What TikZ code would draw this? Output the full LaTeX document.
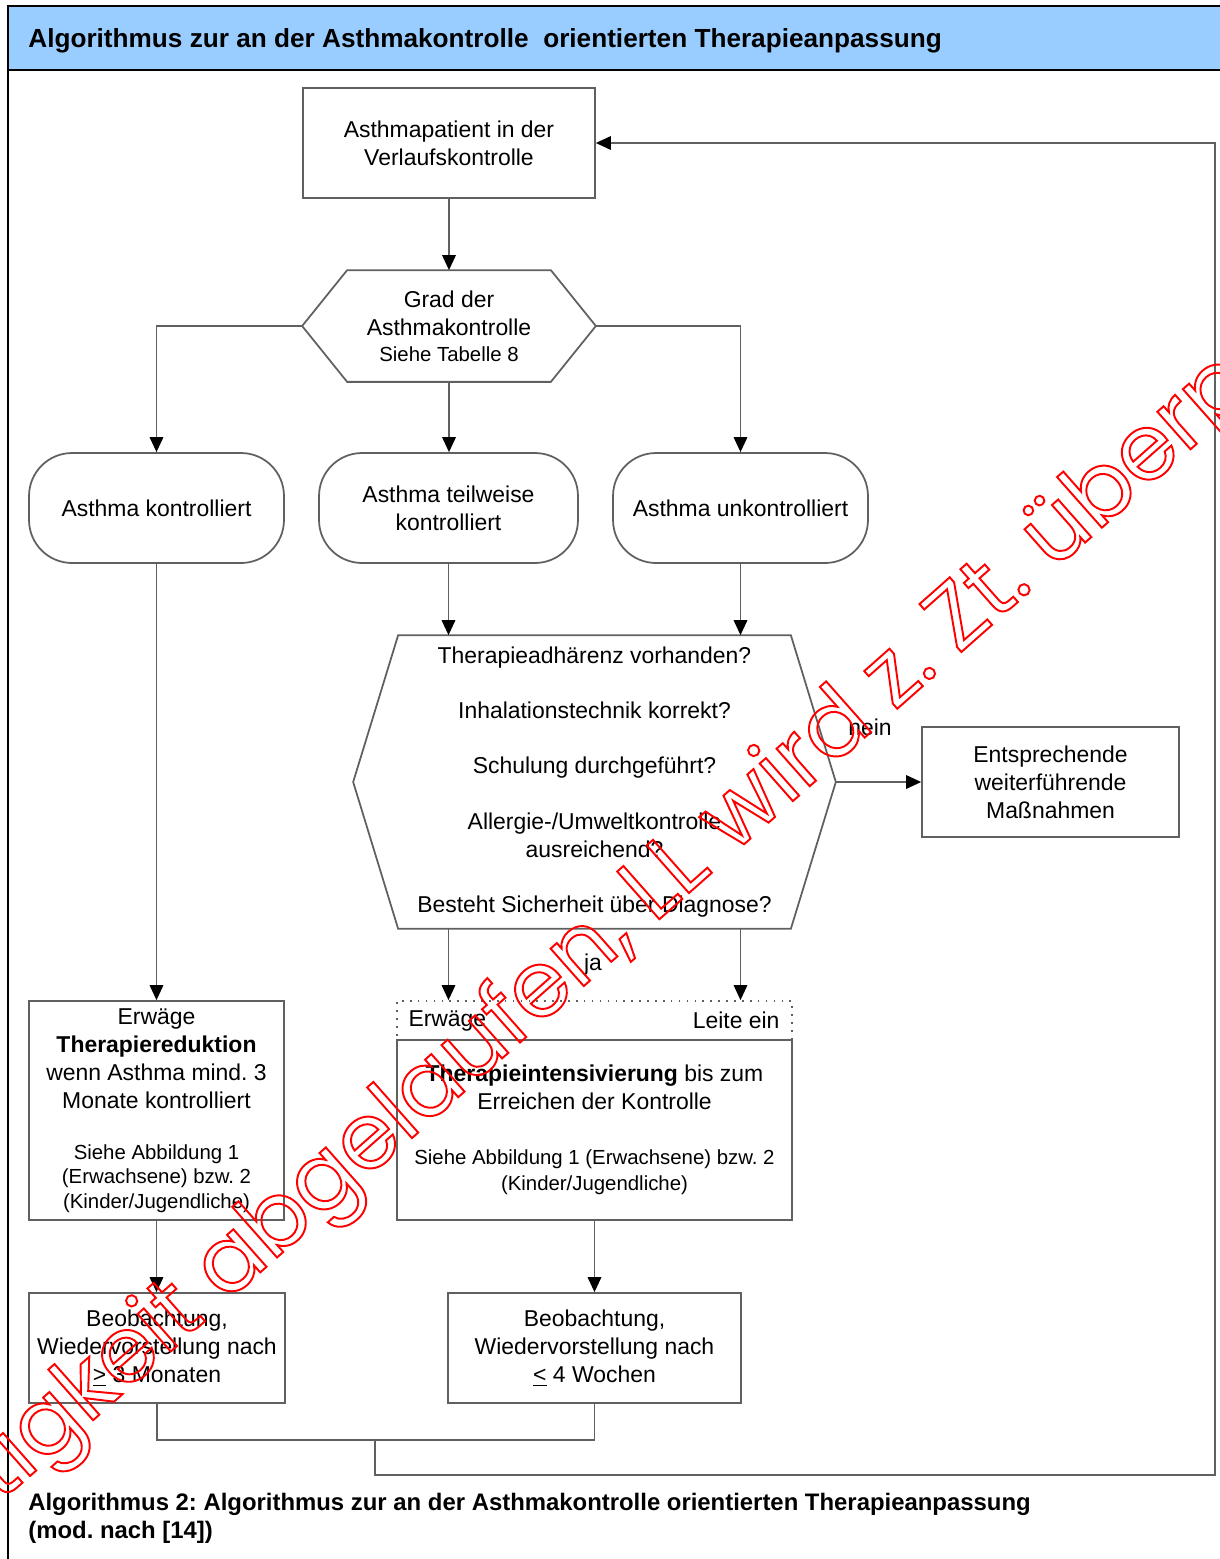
\documentclass[tikz,border=0pt]{standalone}
\usepackage{fontspec}
\setmainfont{Liberation Sans}
\newfontfamily\wzfont{Poppins}
\frenchspacing
\usetikzlibrary{calc}
\usetikzlibrary{arrows.meta}
\definecolor{headblue}{RGB}{153,204,255}
\definecolor{linegrey}{RGB}{96,96,96}
\newcommand{\kl}[1]{{\fontsize{11.6}{14.5}\selectfont #1}}
\newcommand{\umriss}[1]{\special{pdf:literal direct 1 Tr 1.1 w}#1\special{pdf:literal direct 0 Tr}}
\tikzset{box/.style={draw=linegrey, line width=1pt, align=center, inner sep=0pt, minimum height=2.2cm, font=\fontsize{13.05}{15.9}\selectfont}}
\tikzset{roundbox/.style={box, rounded corners=0.86cm}}
\tikzset{hexbox/.style={box, draw=none}}
\tikzset{label/.style={inner sep=0pt, font=\fontsize{13.05}{15.9}\selectfont}}
\tikzset{linie/.style={draw=linegrey, line width=1pt}}
\tikzset{pfeil/.style={linie, -{Triangle[length=0.3cm, width=0.27cm, color=black]}}}
\tikzset{rahmen/.style={draw=black, line width=1.6pt}}

\begin{document}
\begin{tikzpicture}[x=0.02cm,y=-0.02cm]
  \useasboundingbox (0,0) rectangle (1220,1559);
  % header band
  \fill[headblue] (8,6) rectangle (1220,70);
  \draw[rahmen] (1220,6) -- (8,6) -- (8,1559);
  \draw[rahmen] (8,70) -- (1220,70);
  \node[label, anchor=west, font=\fontsize{14.9}{18}\selectfont\bfseries] (titel) at (28,41)
    {Algorithmus zur an der Asthmakontrolle~ orientierten Therapieanpassung};

  % boxes
  \node[box, minimum width=5.84cm] (patient) at (449,143) {Asthmapatient in der\\ Verlaufskontrolle};
  \node[hexbox, minimum width=5.84cm] (grad) at (449,326) {Grad der\\ Asthmakontrolle\\[-1.2pt] \kl{Siehe Tabelle 8}};
  \node[roundbox, minimum width=5.1cm] (kontr) at (156.5,508) {Asthma kontrolliert};
  \node[roundbox, minimum width=5.18cm] (teilw) at (448.5,508) {Asthma teilweise\\ kontrolliert};
  \node[roundbox, minimum width=5.1cm] (unkontr) at (740.5,508) {Asthma unkontrolliert};
  \node[hexbox, minimum width=9.62cm, minimum height=5.84cm] (fragen) at (594.5,782)
    {Therapieadhärenz vorhanden?\\[15.6pt] Inhalationstechnik korrekt?\\[15.6pt]
     Schulung durchgeführt?\\[15.6pt] Allergie-/Umweltkontrolle\\ ausreichend?\\[15.6pt]
     Besteht Sicherheit über Diagnose?};
  \node[box, minimum width=5.14cm] (massn) at (1050.5,782) {Entsprechende\\ weiterführende\\ Maßnahmen};
  \node[box, minimum width=5.1cm, minimum height=4.38cm] (reduk) at (156.5,1110.5)
    {Erwäge\\ \textbf{Therapiereduktion}\\ wenn Asthma mind. 3\\ Monate kontrolliert\\[13pt]
     \kl{Siehe Abbildung 1}\\[-2pt] \kl{(Erwachsene) bzw. 2}\\[-2pt] \kl{(Kinder/Jugendliche)}};
  \node[box, dash pattern=on 0.9pt off 3.6pt, minimum width=7.9cm, minimum height=0.78cm] (kopf) at (594.5,1020.5) {};
  \node[box, minimum width=7.9cm, minimum height=3.6cm] (intens) at (594.5,1130)
    {\textbf{Therapieintensivierung} bis zum\\ Erreichen der Kontrolle\\[15.3pt]
     \kl{Siehe Abbildung 1 (Erwachsene) bzw. 2}\\[-1.2pt] \kl{(Kinder/Jugendliche)}};
  \node[box, minimum width=5.12cm] (beob1) at (157,1348) {Beobachtung,\\ Wiedervorstellung nach\\ \underline{>} 3 Monaten};
  \node[box, minimum width=5.86cm] (beob2) at (594.5,1348) {Beobachtung,\\ Wiedervorstellung nach\\ \underline{<} 4 Wochen};

  \node[label, anchor=west] (erwaege) at ([xshift=0.24cm]kopf.west) {Erwäge};
  \node[label, anchor=east] (leite) at ([xshift=-0.26cm]kopf.east) {Leite ein};
  \node[label] (nein) at (870,727) {nein};
  \node[label] (ja) at (593,965) {ja};

  % hexagons
  \foreach \h in {grad, fragen}{
    \draw[linie] ([xshift=0.9cm]\h.north west) -- ([xshift=-0.9cm]\h.north east) -- (\h.east)
      -- ([xshift=-0.9cm]\h.south east) -- ([xshift=0.9cm]\h.south west) -- (\h.west) -- cycle;
  }

  % connectors
  \foreach \u/\v in {patient/grad, grad/teilw, kontr/reduk, reduk/beob1, intens/beob2, teilw/fragen, unkontr/fragen}{
    \draw[pfeil] (\u.south) -- (\u.south |- \v.north);
  }
  \draw[pfeil] (grad.west) -| (kontr.north);
  \draw[pfeil] (grad.east) -| (unkontr.north);
  \draw[pfeil] (fragen.east) -- (massn.west);
  \draw[pfeil] (teilw.south |- fragen.south) -- (teilw.south |- kopf.north);
  \draw[pfeil] (unkontr.south |- fragen.south) -- (unkontr.south |- kopf.north);
  \coordinate (treff) at (375,1440);
  \coordinate (rueck) at (1215,1475);
  \draw[linie] (beob1.south) |- (treff) -| (beob2.south);
  \draw[pfeil] (treff) |- (rueck) |- (patient.east);

  % caption
  \node[label, anchor=west, align=left, font=\fontsize{13.6}{15.9}\selectfont\bfseries] (unterschrift) at (28,1518)
    {Algorithmus 2: Algorithmus zur an der Asthmakontrolle orientierten Therapieanpassung\\ (mod. nach [14])};

  % watermark
  \node[inner sep=0pt, rotate=41.5, anchor=base west, font=\wzfont\fontsize{52}{60}\selectfont, text=red] (wz) at (958,655)
    {\umriss{\llap{Gültigkeit abgelaufen, LL wird z. }Zt. überprüft}};
\end{tikzpicture}
\end{document}
